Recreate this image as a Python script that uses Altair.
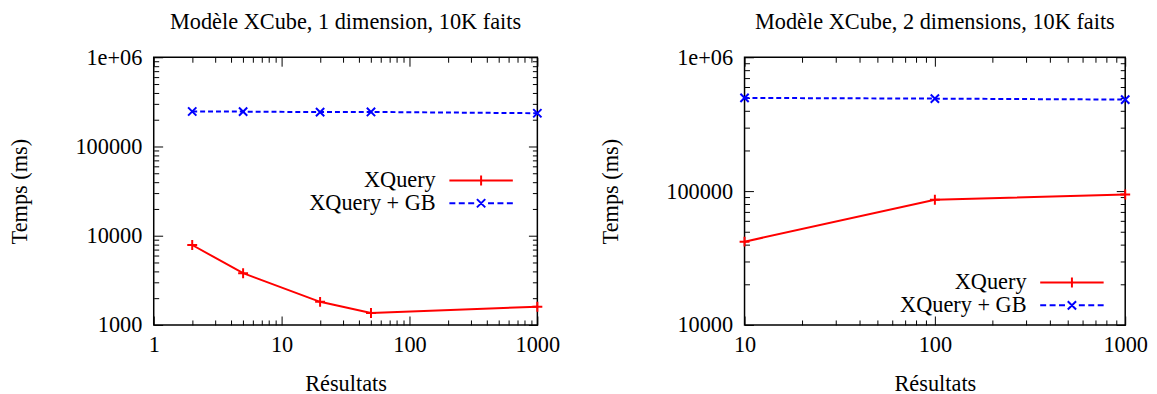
import altair as alt
import pandas as pd

# ---------------- data ----------------
series_names = ["XQuery", "XQuery + GB"]
series_colors = ["#ff0000", "#0000ff"]

left_results = [2, 5, 20, 50, 1000]
left_xquery = [7870, 3800, 1815, 1360, 1600]
left_xquery_gb = [246600, 246000, 243000, 244000, 236000]

right_results = [10, 100, 1000]
right_xquery = [41900, 86200, 94400]
right_xquery_gb = [497000, 491000, 483000]

left_title = "Modèle XCube, 1 dimension, 10K faits"
right_title = "Modèle XCube, 2 dimensions, 10K faits"
x_title = "Résultats"
y_title = "Temps (ms)"

left_x_ticks = [1, 10, 100, 1000]
left_x_labels = ["1", "10", "100", "1000"]
right_x_ticks = [10, 100, 1000]
right_x_labels = ["10", "100", "1000"]
left_y_ticks = [1000, 10000, 100000, 1000000]
left_y_labels = ["1000", "10000", "100000", "1e+06"]
right_y_ticks = [10000, 100000, 1000000]
right_y_labels = ["10000", "100000", "1e+06"]
minor_mult = [2, 3, 4, 5, 6, 7, 8, 9]

FONT = "Liberation Serif"
FS = 22.5
MAJOR = 9
MINOR = 5

plus_path = "M-1,0L1,0M0,-1L0,1"
cross_path = "M-1,-1L1,1M-1,1L1,-1"
# legend sample: symbol box 20px (unit = 10px), line 64px long
legend_paths = [
    "M-3.2,0L3.2,0M0,-0.5L0,0.5",
    "M-3.2,0L-2.6,0M-2.25,0L-1.65,0M-1.3,0L-0.7,0"
    "M-0.42,-0.42L0.42,0.42M-0.42,0.42L0.42,-0.42"
    "M0.7,0L1.3,0M1.65,0L2.25,0M2.6,0L3.2,0",
]


def long_df(results, s1, s2):
    rows = []
    for x, a, b in zip(results, s1, s2):
        rows.append({"results": x, "temps": a, "serie": series_names[0]})
        rows.append({"results": x, "temps": b, "serie": series_names[1]})
    return pd.DataFrame(rows)


def label_expr(ticks, labels):
    expr = "''"
    for t, l in reversed(list(zip(ticks, labels))):
        expr = f"datum.value == {t} ? '{l}' : ({expr})"
    return expr


def minors(ticks):
    return [m * t for t in ticks[:-1] for m in minor_mult]


def tick_axis(orient, values, size):
    return alt.Axis(orient=orient, values=values, labels=False, domain=False,
                    grid=False, title=None, tickSize=size, offset=-size,
                    tickColor="black", tickWidth=1)


def panel(df, title, x_dom, x_ticks, x_labels, y_dom, y_ticks, y_labels,
          width, height, lx, ly):
    xs = alt.Scale(type="log", domain=x_dom, nice=False)
    ys = alt.Scale(type="log", domain=y_dom, nice=False)
    base = alt.Chart(df)
    x_minor = minors(x_ticks)
    y_minor = minors(y_ticks)

    x_lab = alt.Axis(orient="bottom", values=x_ticks, labelExpr=label_expr(x_ticks, x_labels),
                     ticks=False, domain=False, grid=False, title=x_title,
                     labelFlush=False, labelPadding=9, titlePadding=17)
    y_lab = alt.Axis(orient="left", values=y_ticks, labelExpr=label_expr(y_ticks, y_labels),
                     ticks=False, domain=False, grid=False, title=y_title,
                     labelFlush=False, labelPadding=12, titlePadding=43.5)

    l1 = base.mark_line(color=series_colors[0], strokeWidth=2).encode(
        x=alt.X("results:Q", scale=xs, axis=x_lab),
        y=alt.Y("temps:Q", scale=ys, axis=y_lab),
    ).transform_filter(alt.datum.serie == series_names[0])

    l2 = base.mark_line(color=series_colors[1], strokeWidth=2, strokeDash=[5, 3]).encode(
        x=alt.X("results:Q", scale=xs, axis=tick_axis("bottom", x_ticks, MAJOR)),
        y=alt.Y("temps:Q", scale=ys, axis=tick_axis("left", y_ticks, MAJOR)),
    ).transform_filter(alt.datum.serie == series_names[1])

    p1 = base.mark_point(shape=plus_path, size=100, strokeWidth=2, filled=False,
                         color=series_colors[0], opacity=1).encode(
        x=alt.X("results:Q", scale=xs, axis=tick_axis("bottom", x_minor, MINOR)),
        y=alt.Y("temps:Q", scale=ys, axis=tick_axis("left", y_minor, MINOR)),
    ).transform_filter(alt.datum.serie == series_names[0])

    p2 = base.mark_point(shape=cross_path, size=70, strokeWidth=2, filled=False,
                         color=series_colors[1], opacity=1).encode(
        x=alt.X("results:Q", scale=xs, axis=tick_axis("top", x_ticks, MAJOR)),
        y=alt.Y("temps:Q", scale=ys, axis=tick_axis("right", y_ticks, MAJOR)),
    ).transform_filter(alt.datum.serie == series_names[1])

    leg = alt.Legend(title=None, orient="none", legendX=lx, legendY=ly,
                     labelAlign="right", labelOffset=alt.ExprRef(expr="-57"),
                     symbolStrokeWidth=2, symbolSize=400,
                     rowPadding=alt.ExprRef(expr="-1.5"),
                     labelFont=FONT, labelFontSize=FS, labelColor="black",
                     symbolOpacity=1)
    p3 = base.mark_point(filled=False, size=400, strokeWidth=2).encode(
        x=alt.X("results:Q", scale=xs, axis=tick_axis("top", x_minor, MINOR)),
        y=alt.Y("temps:Q", scale=ys, axis=tick_axis("right", y_minor, MINOR)),
        shape=alt.Shape("serie:N", scale=alt.Scale(domain=series_names, range=legend_paths), legend=leg),
        stroke=alt.Stroke("serie:N", scale=alt.Scale(domain=series_names, range=series_colors), legend=leg),
    ).transform_filter("false")

    return alt.layer(l1, l2, p1, p2, p3).resolve_axis(x="independent", y="independent").properties(
        width=width, height=height, title=alt.TitleParams(text=title)
    )


left = panel(long_df(left_results, left_xquery, left_xquery_gb), left_title,
             [1, 1000], left_x_ticks, left_x_labels,
             [1000, 1000000], left_y_ticks, left_y_labels,
             387, 270, 319, 113)
right = panel(long_df(right_results, right_xquery, right_xquery_gb), right_title,
              [10, 1000], right_x_ticks, right_x_labels,
              [10000, 1000000], right_y_ticks, right_y_labels,
              384, 270, 319, 216)

chart = alt.hconcat(left, right, spacing=38).resolve_scale(
    shape="independent", stroke="independent"
).resolve_legend(shape="independent", stroke="independent").configure(
    font=FONT, padding={"left": 0, "top": 0, "right": 0, "bottom": 0}
).configure_view(stroke="black", strokeWidth=1.5).configure_axis(
    labelFont=FONT, labelFontSize=FS, labelColor="black",
    titleFont=FONT, titleFontSize=FS, titleFontWeight="normal", titleColor="black",
).configure_title(
    font=FONT, fontSize=FS, fontWeight="normal", color="black", offset=13, anchor="middle"
)

chart.save("out.html", embed_options={"renderer": "svg", "actions": False})
